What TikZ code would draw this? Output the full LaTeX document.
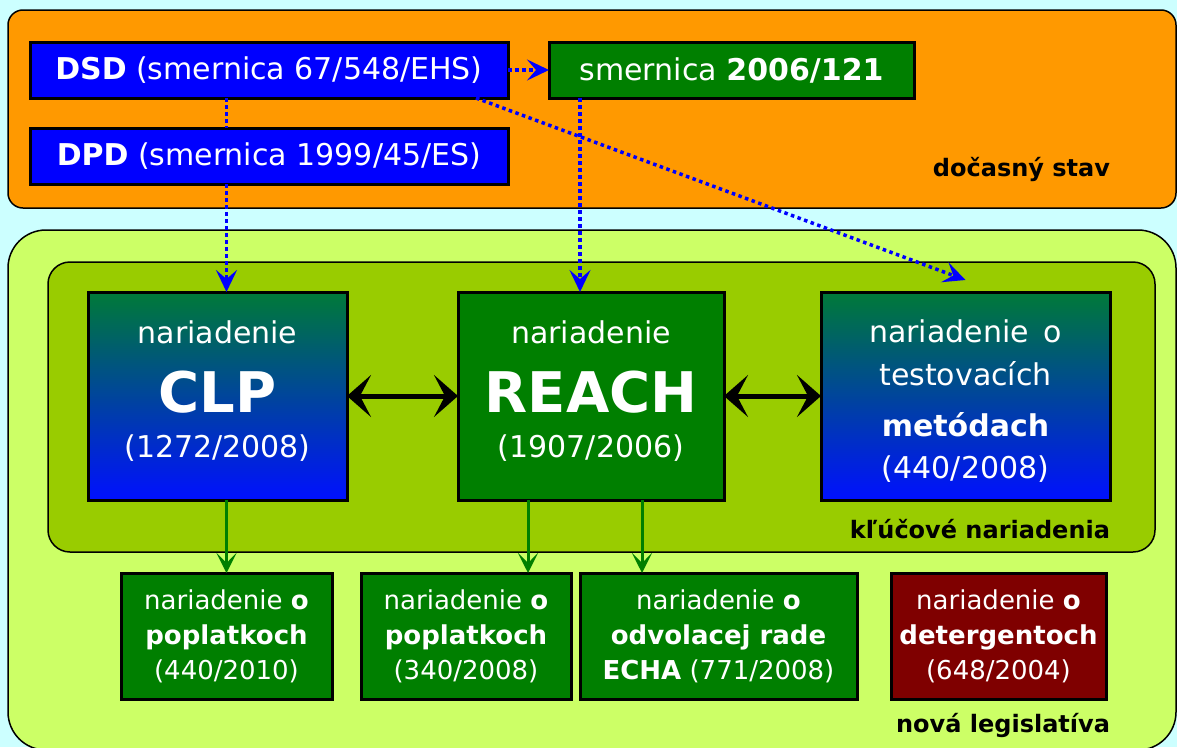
\documentclass[tikz,border=0pt]{standalone}
\usepackage{fontspec}
\setmainfont{DejaVu Sans}
\usetikzlibrary{arrows.meta}

\definecolor{bgcyan}{HTML}{CCFFFF}
\definecolor{panelorange}{HTML}{FF9900}
\definecolor{panellime}{HTML}{CCFF66}
\definecolor{panelgreen}{HTML}{99CC00}
\definecolor{boxgreen}{HTML}{007F00}
\definecolor{boxblue}{HTML}{0000FF}
\definecolor{boxred}{HTML}{7F0000}
\definecolor{gradtop}{HTML}{007A38}
\definecolor{gradbot}{HTML}{0010FF}
\definecolor{linkblue}{HTML}{0000FF}

\newcommand{\fsz}[2]{\fontsize{#1}{#2}\selectfont}

\begin{document}
\begin{tikzpicture}[x=1pt,y=-1pt,
  every node/.style={inner sep=0pt, outer sep=0pt},
  panel/.style={draw=black, line width=1.5pt},
  frame/.style={draw=black, line width=3pt, text=white, align=center},
  wtext/.style={text=white, anchor=base},
  dotline/.style={draw=linkblue, line width=3.5pt, dash pattern=on 3.5pt off 3.5pt},
  dotarrow/.style={dotline, -{Stealth[length=22pt,width=21pt,inset=9pt]}},
  bothway/.style={draw=black, line width=5pt,
    {Stealth[length=24pt,width=42pt,inset=11pt]}-{Stealth[length=24pt,width=42pt,inset=11pt]}},
  down/.style={draw=boxgreen, line width=3pt, -{Stealth[length=20pt,width=20pt,inset=10pt]}},
  tag/.style={font=\fsz{24}{24}\bfseries, anchor=base east}
]
% canvas
\fill[bgcyan] (0,0) rectangle (1177,747);
\useasboundingbox (0,0) rectangle (1177,747);

% panels
\draw[panel, fill=panelorange, rounded corners=15pt] (8,10) rectangle (1176,208);
\draw[panel, fill=panellime, rounded corners=38pt] (8,230) rectangle (1176,750);
\draw[panel, fill=panelgreen, rounded corners=22pt] (48,262) rectangle (1155,552);

% helper x positions for vertical connectors
\coordinate (xsm) at (580,0);
\coordinate (xg2) at (528,0);
\coordinate (xg3) at (642,0);

% directives (temporary state)
\node[frame, fill=boxblue, minimum width=478pt, minimum height=56pt, font=\fsz{30}{30}]
  (dsd) at (269,70) {\textbf{DSD} (smernica 67/548/EHS)};
\node[frame, fill=boxblue, minimum width=478pt, minimum height=56pt, font=\fsz{30}{30}]
  (dpd) at (269,156) {\textbf{DPD} (smernica 1999/45/ES)};
\node[frame, fill=boxgreen, minimum width=365pt, minimum height=56pt, font=\fsz{30}{30}]
  (sm) at (731.5,70) {smernica \textbf{2006/121}};
\node[tag] (temp) at (1110,176) {dočasný stav};

% key regulations
\node[frame, top color=gradtop, bottom color=gradbot, minimum width=259pt, minimum height=208pt]
  (clp) at (217.5,396) {};
\node[frame, fill=boxgreen, minimum width=266pt, minimum height=208pt]
  (reach) at (591,396) {};
\node[frame, top color=gradtop, bottom color=gradbot, minimum width=289pt, minimum height=208pt]
  (test) at (965.5,396) {};

\node[wtext, font=\fsz{30}{30}] (clp1) at (217.5,343) {nariadenie};
\node[wtext, font=\fsz{56}{56}\bfseries] (clp2) at (217.5,412) {CLP};
\node[wtext, font=\fsz{30}{30}] (clp3) at (217.5,457) {(1272/2008)};

\node[wtext, font=\fsz{30}{30}] (reach1) at (591,343) {nariadenie};
\node[wtext, font=\fsz{56}{56}\bfseries] (reach2) at (591,412) {REACH};
\node[wtext, font=\fsz{30}{30}] (reach3) at (591,457) {(1907/2006)};

\node[wtext, font=\fsz{30}{30}] (test1) at (965.5,342) {nariadenie\, o};
\node[wtext, font=\fsz{30}{30}] (test2) at (965.5,385) {testovacích};
\node[wtext, font=\fsz{30}{30}\bfseries] (test3) at (965.5,436) {metódach};
\node[wtext, font=\fsz{30}{30}] (test4) at (965.5,478) {(440/2008)};

\node[tag] (key) at (1110,538) {kľúčové nariadenia};

% new legislation
\node[frame, fill=boxgreen, minimum width=211pt, minimum height=126pt, font=\fsz{26}{35}]
  (fee1) at (226.5,636) {nariadenie \textbf{o}\\\textbf{poplatkoch}\\(440/2010)};
\node[frame, fill=boxgreen, minimum width=210pt, minimum height=126pt, font=\fsz{26}{35}]
  (fee2) at (466,636) {nariadenie \textbf{o}\\\textbf{poplatkoch}\\(340/2008)};
\node[frame, fill=boxgreen, minimum width=277pt, minimum height=126pt, font=\fsz{26}{35}]
  (echa) at (718.5,636) {nariadenie \textbf{o}\\\textbf{odvolacej rade}\\\textbf{ECHA} (771/2008)};
\node[frame, fill=boxred, minimum width=215pt, minimum height=126pt, font=\fsz{26}{35}]
  (det) at (998.5,636) {nariadenie \textbf{o}\\\textbf{detergentoch}\\(648/2004)};

\node[tag] (new) at (1110,732) {nová legislatíva};

% links from the directives
\draw[dotarrow] (dsd.east) -- (sm.west);
\draw[dotline] (dsd.south -| fee1.north) -- (dpd.north -| fee1.north);
\draw[dotarrow] (dpd.south -| fee1.north) -- (clp.north -| fee1.north);
\draw[dotarrow] (sm.south -| xsm) -- (reach.north -| xsm);
\draw[dotarrow] ([xshift=-32pt]dsd.south east) -- ([yshift=12pt]test.north);

% links between key regulations
\draw[bothway] (clp.east) -- (reach.west);
\draw[bothway] (reach.east) -- (test.west);

% follow-up regulations
\draw[down] (clp.south -| fee1.north) -- (fee1.north);
\draw[down] (reach.south -| xg2) -- (fee2.north -| xg2);
\draw[down] (reach.south -| xg3) -- (echa.north -| xg3);
\end{tikzpicture}
\end{document}
